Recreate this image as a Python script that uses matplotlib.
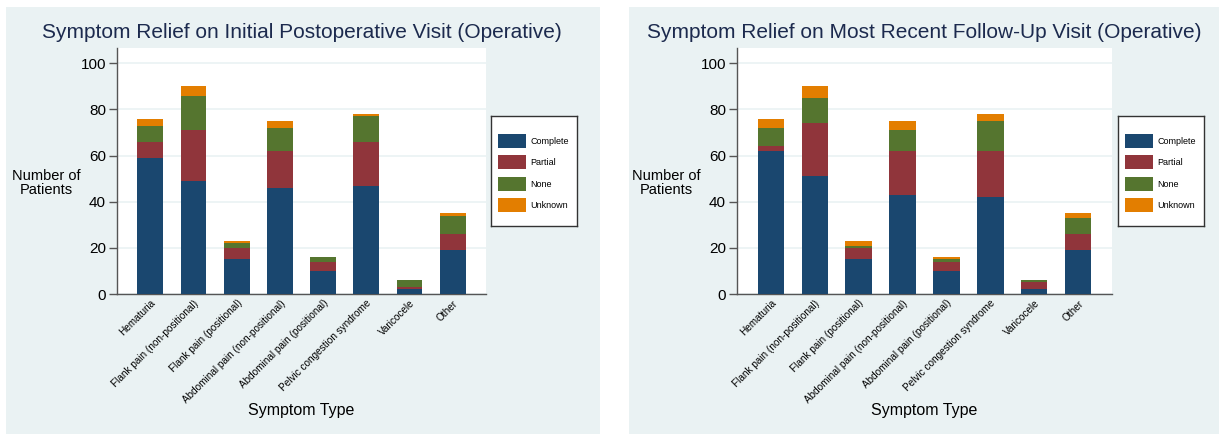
import numpy as np
import matplotlib
matplotlib.use("Agg")
import matplotlib.pyplot as plt
from matplotlib.patches import Rectangle, Patch

plt.rcParams['font.family'] = ['Liberation Sans', 'DejaVu Sans']

##### DATA #####
symptoms = ['Hematuria', 'Flank pain (non-positional)', 'Flank pain (positional)',
            'Abdominal pain (non-positional)', 'Abdominal pain (positional)',
            'Pelvic congestion syndrome', 'Varicocele', 'Other']
categories = ['Complete', 'Partial', 'None', 'Unknown']

# initial postoperative visit
initial_complete = [59, 49, 15, 46, 10, 47, 2, 19]
initial_partial = [7, 22, 5, 16, 4, 19, 1, 7]
initial_none = [7, 15, 2, 10, 2, 11, 3, 8]
initial_unknown = [3, 4, 1, 3, 0, 1, 0, 1]

# most recent follow-up visit
recent_complete = [62, 51, 15, 43, 10, 42, 2, 19]
recent_partial = [2, 23, 5, 19, 4, 20, 3, 7]
recent_none = [8, 11, 1, 9, 1, 13, 1, 7]
recent_unknown = [4, 5, 2, 4, 1, 3, 0, 2]

titles = ['Symptom Relief on Initial Postoperative Visit (Operative)',
          'Symptom Relief on Most Recent Follow-Up Visit (Operative)']

colors = ['#1A476F', '#90353B', '#55752F', '#E37E00']
bg = '#EAF2F3'
title_color = '#1C2A4E'

W, H = 1219, 434
fig = plt.figure(figsize=(W / 100, H / 100), dpi=100)


def fx(px):
    return px / W


def fy(py):
    return 1 - py / H


# panel backgrounds (pixel boxes: x0, x1)
for x0, x1 in [(6, 600), (629, 1219)]:
    fig.patches.append(Rectangle((fx(x0), 0), fx(x1 - x0), fy(7),
                                 transform=fig.transFigure, facecolor=bg,
                                 edgecolor='none', zorder=-5))

panels = [
    (117, 486, 491, [initial_complete, initial_partial, initial_none, initial_unknown]),
    (737, 1112, 1118, [recent_complete, recent_partial, recent_none, recent_unknown]),
]

x = np.arange(len(symptoms))
for (ax_l, ax_r, leg_x, series), title in zip(panels, titles):
    ax = fig.add_axes([fx(ax_l), fy(294), fx(ax_r - ax_l), (294 - 48) / H])
    ax.set_facecolor('white')
    bottom = np.zeros(len(symptoms))
    for vals, c in zip(series, colors):
        vals = np.array(vals, dtype=float)
        ax.bar(x, vals, bottom=bottom, width=0.6, color=c, zorder=3)
        bottom += vals

    ax.set_xlim(-0.77, 7.77)
    ax.set_ylim(0, 106.6)
    ax.set_yticks(np.arange(0, 101, 20))
    ax.yaxis.grid(True, color=bg, linewidth=1.2, zorder=0)
    ax.set_axisbelow(True)
    for s in ['top', 'right']:
        ax.spines[s].set_visible(False)
    for s in ['left', 'bottom']:
        ax.spines[s].set_color('#555555')
        ax.spines[s].set_linewidth(1.0)
    ax.tick_params(axis='y', length=6, width=1, color='#555555', labelsize=11, pad=2)
    ax.set_xticks(x)
    ax.set_xticklabels(symptoms, rotation=45, ha='right', va='top',
                       rotation_mode='anchor', fontsize=7.2)
    ax.tick_params(axis='x', length=0, pad=3)

    cx = (ax_l + ax_r) / 2
    fig.text(fx(cx), fy(33), title, ha='center', va='center',
             fontsize=15, color=title_color)
    fig.text(fx(cx), fy(411), 'Symptom Type', ha='center', va='center', fontsize=11.5)
    fig.text(fx(ax_l - 71), fy(183), 'Number of\nPatients', ha='center', va='center',
             fontsize=10.5, linespacing=1.0)

    # legend box
    lax = fig.add_axes([fx(leg_x), fy(226), fx(86), 110 / H])
    lax.set_xticks([])
    lax.set_yticks([])
    lax.set_facecolor('white')
    for s in lax.spines.values():
        s.set_color('#333333')
        s.set_linewidth(1.0)
    handles = [Patch(facecolor=c, label=l) for c, l in zip(colors, categories)]
    lax.legend(handles=handles, loc='upper left', bbox_to_anchor=(0.04, 1 - 14 / 110),
               frameon=False, fontsize=6.5, handlelength=3.1, handleheight=2.05,
               labelspacing=0.8, handletextpad=0.45, borderaxespad=0.0)

fig.savefig('out.png', dpi=100)
